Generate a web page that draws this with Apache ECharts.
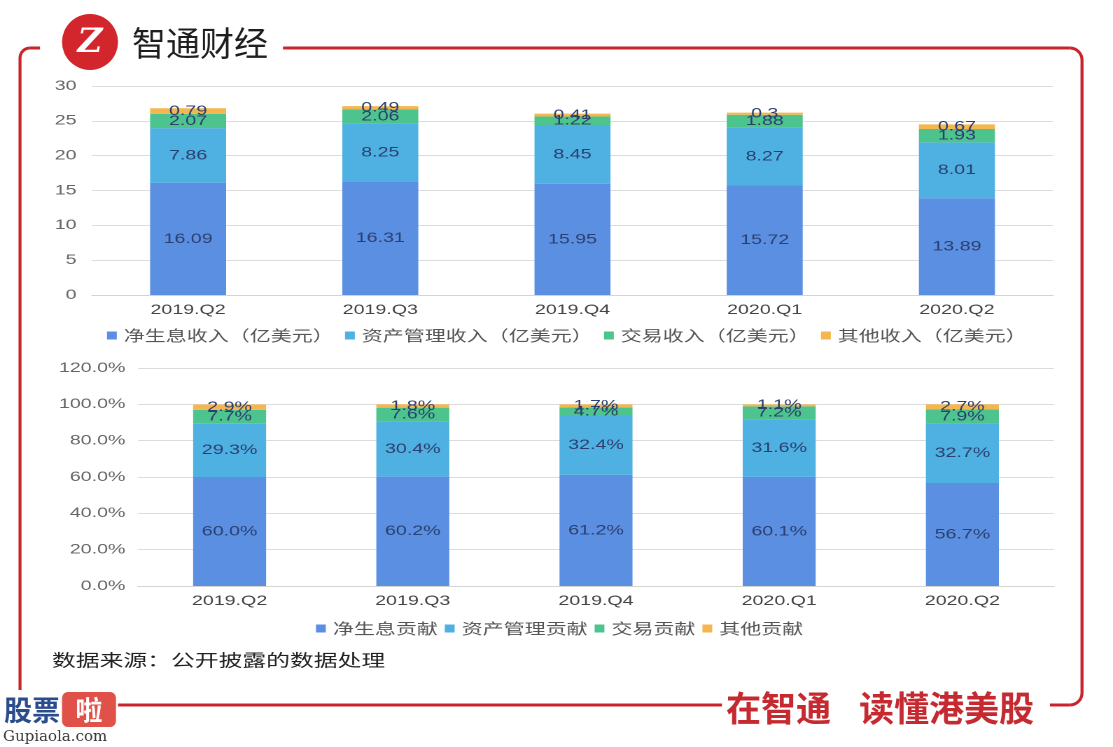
<!DOCTYPE html>
<html><head><meta charset="utf-8">
<script src="https://cdn.jsdelivr.net/npm/echarts@6/dist/echarts.min.js"></script>
<style>
html,body{margin:0;padding:0;background:#fff;overflow:hidden}
#c{width:795px;height:747px;transform:scaleX(1.4);transform-origin:0 0}
</style>
</head><body><div id="c"></div>
<script>
var categories = ['2019.Q2','2019.Q3','2019.Q4','2020.Q1','2020.Q2'];
var topNames = ['净生息收入（亿美元）','资产管理收入（亿美元）','交易收入（亿美元）','其他收入（亿美元）'];
var netInterest = [16.09, 16.31, 15.95, 15.72, 13.89];
var assetMgmt = [7.86, 8.25, 8.45, 8.27, 8.01];
var trading = [2.07, 2.06, 1.22, 1.88, 1.93];
var other = [0.79, 0.49, 0.41, 0.3, 0.67];
var botNames = ['净生息贡献','资产管理贡献','交易贡献','其他贡献'];
var netInterestPct = [60.0, 60.2, 61.2, 60.1, 56.7];
var assetMgmtPct = [29.3, 30.4, 32.4, 31.6, 32.7];
var tradingPct = [7.7, 7.6, 4.7, 7.2, 7.9];
var otherPct = [2.9, 1.8, 1.7, 1.1, 2.7];
var topTicks = [0, 30, 5];
var botTicks = [0, 120, 20];

// the pasted chart image in the reference is stretched horizontally
var S = 1.4;
var colors = ['#5b8fe2', '#4fb0e2', '#4dc48d', '#f4b64f'];
var numFont = 'Liberation Sans, Arial, sans-serif';
var cjk = '"Noto Sans CJK SC", sans-serif';
var red = '#c8242c';

var chart = echarts.init(document.getElementById('c'), null, {renderer: 'canvas', devicePixelRatio: 2});
var topData = [netInterest, assetMgmt, trading, other];
var botData = [netInterestPct, assetMgmtPct, tradingPct, otherPct];
var series = [];
var lbl = {show: true, position: 'inside', color: '#2c4070', fontSize: 14, fontFamily: numFont};
topData.forEach(function (d, i) {
  series.push({
    name: topNames[i], type: 'bar', stack: 'top', xAxisIndex: 0, yAxisIndex: 0,
    data: d, barWidth: 76 / S, itemStyle: {color: colors[i]},
    label: Object.assign({}, lbl, {formatter: function (p) { return String(p.value); }})
  });
});
botData.forEach(function (d, i) {
  series.push({
    name: botNames[i], type: 'bar', stack: 'bot', xAxisIndex: 1, yAxisIndex: 1,
    data: d, barWidth: 73 / S, itemStyle: {color: colors[i]},
    label: Object.assign({}, lbl, {formatter: function (p) { return p.value.toFixed(1) + '%'; }})
  });
});

var ls = {stroke: red, lineWidth: 3, fill: null};
function seg(x1, y1, x2, y2) { return {type: 'line', shape: {x1: x1, y1: y1, x2: x2, y2: y2}, style: ls}; }
function arc(cx, cy, r, a0, a1) { return {type: 'arc', shape: {cx: cx, cy: cy, r: r, startAngle: a0, endAngle: a1, clockwise: true}, style: ls}; }
var PI = Math.PI;
var decor = [
  seg(30, 48, 40, 48), arc(30, 58, 10, PI, 1.5 * PI), seg(20, 58, 20, 690),
  seg(283, 48, 1070, 48), arc(1070, 60, 12, 1.5 * PI, 2 * PI), seg(1082, 60, 1082, 693),
  arc(1070, 693, 12, 0, 0.5 * PI), seg(1070, 705, 1050, 705),
  seg(118, 705, 722, 705),
  {type: 'circle', shape: {cx: 90, cy: 42, r: 28}, style: {fill: '#d2252c'}},
  {type: 'text', x: 90, y: 43, style: {text: 'Z', fill: '#fff', font: 'italic bold 34px "DejaVu Serif", serif', align: 'center', verticalAlign: 'middle'}},
  {type: 'text', x: 132, y: 43, style: {text: '智通财经', fill: '#1e1e1e', font: '34px "Noto Sans CJK SC"', verticalAlign: 'middle'}},
  {type: 'text', x: 726, y: 708, style: {text: '在智通', fill: '#c42a30', font: 'bold 35px "Noto Sans CJK SC"', verticalAlign: 'middle'}},
  {type: 'text', x: 859, y: 708, style: {text: '读懂港美股', fill: '#c42a30', font: 'bold 35px "Noto Sans CJK SC"', verticalAlign: 'middle'}},
  {type: 'text', x: 4, y: 710, style: {text: '股票', fill: '#2b4c8c', font: 'bold 28px "Noto Sans CJK SC"', verticalAlign: 'middle'}},
  {type: 'rect', shape: {x: 62, y: 692, width: 54, height: 35, r: 6}, style: {fill: '#e0514a'}},
  {type: 'text', x: 89, y: 710, style: {text: '啦', fill: '#fff', font: 'bold 27px "Noto Sans CJK SC"', align: 'center', verticalAlign: 'middle'}},
  {type: 'text', x: 3, y: 737, style: {text: 'Gupiaola.com', fill: '#333', font: '15px "DejaVu Serif", serif', verticalAlign: 'middle'}}
];

chart.setOption({
  animation: false,
  textStyle: {fontFamily: numFont},
  grid: [
    {left: 92 / S, right: 795 - 1053 / S, top: 86, bottom: 452},
    {left: 138 / S, right: 795 - 1054 / S, top: 368, bottom: 161}
  ],
  legend: [
    {data: topNames, top: 323, left: 100 / S, itemWidth: 7, itemHeight: 8, icon: 'rect', itemGap: 8,
      textStyle: {fontFamily: cjk, fontSize: 15, color: '#555'}},
    {data: botNames, top: 616, left: 309 / S, itemWidth: 7, itemHeight: 8, icon: 'rect', itemGap: 5,
      textStyle: {fontFamily: cjk, fontSize: 15, color: '#555'}}
  ],
  xAxis: [
    {type: 'category', gridIndex: 0, data: categories, axisTick: {show: false},
      axisLine: {lineStyle: {color: '#d4d4d4'}},
      axisLabel: {color: '#444', fontSize: 14, margin: 8, fontFamily: numFont}},
    {type: 'category', gridIndex: 1, data: categories, axisTick: {show: false},
      axisLine: {lineStyle: {color: '#d4d4d4'}},
      axisLabel: {color: '#444', fontSize: 14, margin: 8, fontFamily: numFont}}
  ],
  yAxis: [
    {type: 'value', gridIndex: 0, min: topTicks[0], max: topTicks[1], interval: topTicks[2],
      axisLabel: {color: '#666', fontSize: 14, margin: 11, fontFamily: numFont},
      splitLine: {lineStyle: {color: '#dcdcdc'}}, axisLine: {show: false}, axisTick: {show: false}},
    {type: 'value', gridIndex: 1, min: botTicks[0], max: botTicks[1], interval: botTicks[2],
      axisLabel: {color: '#666', fontSize: 14, margin: 9, fontFamily: numFont,
        formatter: function (v) { return v.toFixed(1) + '%'; }},
      splitLine: {lineStyle: {color: '#dcdcdc'}}, axisLine: {show: false}, axisTick: {show: false}}
  ],
  series: series,
  graphic: [
    {type: 'text', x: 52 / S, y: 660, style: {text: '数据来源：公开披露的数据处理', fill: '#222', font: '17px "Noto Sans CJK SC"', verticalAlign: 'middle'}},
    {type: 'group', x: 0, y: 0, scaleX: 1 / S, children: decor}
  ]
});
</script></body></html>
